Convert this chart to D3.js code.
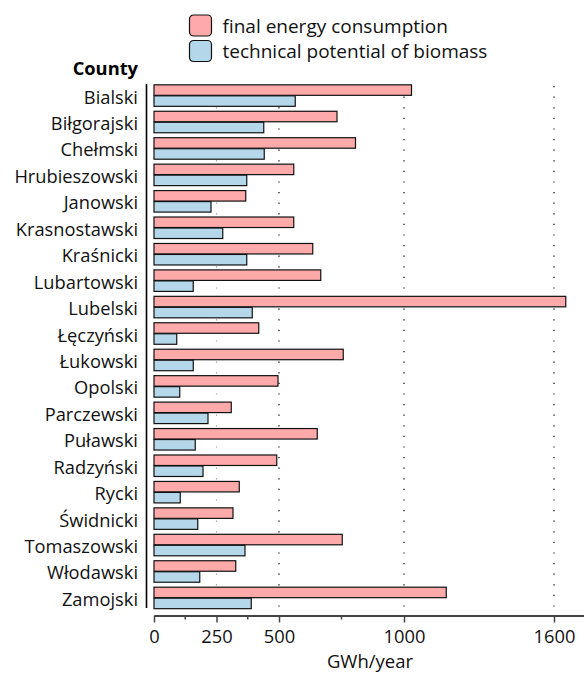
<!DOCTYPE html>
<html>
<head>
<meta charset="utf-8">
<script src="https://cdn.jsdelivr.net/npm/d3@7"></script>
<style>
  body { margin: 0; background: #fff; }
  svg { display: block; font-family: "Open Sans", "Noto Sans", sans-serif; }
</style>
</head>
<body>
<svg id="chart" width="584" height="673"></svg>
<script>
const counties = ["Bialski","Biłgorajski","Chełmski","Hrubieszowski","Janowski","Krasnostawski","Kraśnicki","Lubartowski","Lubelski","Łęczyński","Łukowski","Opolski","Parczewski","Puławski","Radzyński","Rycki","Świdnicki","Tomaszowski","Włodawski","Zamojski"];
const finalEnergy = [1030, 732, 806, 559, 367, 559, 635, 667, 1647, 419, 757, 496, 309, 653, 491, 341, 316, 753, 327, 1169];
const biomass = [565, 439, 441, 371, 228, 275, 371, 157, 393, 91, 157, 103, 216, 165, 196, 105, 175, 364, 183, 389];
const seriesNames = ["final energy consumption", "technical potential of biomass"];
const seriesColors = ["#ffaaaa", "#b4d8ea"];
const tickValues = [0, 250, 500, 1000, 1600];
const minorTicks = [125, 375, 750];
const gridValues = [250, 500, 1000, 1600];

const svg = d3.select("#chart");
const x = d3.scaleLinear().domain([0, 1720]).range([154, 584]);
const y = d3.scaleBand().domain(counties).range([82.1, 610.9]).paddingInner(0.168).paddingOuter(0.084);
const ySub = d3.scaleBand().domain([0, 1]).range([0, y.bandwidth()]);

// gridlines
svg.append("g").selectAll("line").data(gridValues).join("line")
  .attr("x1", d => x(d)).attr("x2", d => x(d))
  .attr("y1", 86).attr("y2", 612)
  .attr("stroke", d => d === 250 ? "#999" : "#000")
  .attr("stroke-width", 1.2)
  .attr("stroke-dasharray", "1.2,9.4");

const data = counties.map((c, i) => ({ county: c, vals: [finalEnergy[i], biomass[i]] }));

const groups = svg.append("g").selectAll("g").data(data).join("g")
  .attr("transform", d => `translate(0,${y(d.county)})`);
groups.selectAll("rect").data(d => d.vals.map((v, k) => ({ v, k }))).join("rect")
  .attr("x", x(0))
  .attr("y", d => ySub(d.k) + 0.5)
  .attr("width", d => x(d.v) - x(0))
  .attr("height", ySub.bandwidth() - 0.5)
  .attr("fill", d => seriesColors[d.k])
  .attr("stroke", "#111")
  .attr("stroke-width", 1.2);

// left axis line
svg.append("line").attr("x1", 146.5).attr("x2", 146.5).attr("y1", 84).attr("y2", 608)
  .attr("stroke", "#000").attr("stroke-width", 1.6);

// county labels
svg.append("g").selectAll("text").data(counties).join("text")
  .attr("x", 138).attr("y", d => y(d) + y.bandwidth() / 2)
  .attr("dy", "0.45em").attr("text-anchor", "end")
  .attr("font-size", 18.3).attr("fill", "#111")
  .text(d => d);
svg.append("text").attr("x", 138).attr("y", 75).attr("text-anchor", "end")
  .attr("font-size", 18.3).attr("font-weight", "bold").attr("fill", "#000").text("County");

// x axis
const xAxis = svg.append("g").attr("transform", "translate(0,615.5)")
  .call(d3.axisBottom(x).tickValues(tickValues).tickFormat(d3.format("d"))
    .tickSize(7).tickPadding(8).tickSizeOuter(0));
xAxis.select(".domain").attr("stroke", "#444").attr("stroke-width", 2);
xAxis.selectAll(".tick line").attr("stroke", "#444").attr("stroke-width", 1.5);
xAxis.selectAll(".tick text").attr("font-size", 18.3).attr("fill", "#111")
  .attr("font-family", "'Open Sans', 'Noto Sans', sans-serif");
svg.append("g").attr("transform", "translate(0,615.5)").selectAll("line").data(minorTicks).join("line")
  .attr("x1", d => x(d)).attr("x2", d => x(d)).attr("y1", 0).attr("y2", 4)
  .attr("stroke", "#444").attr("stroke-width", 1.5);
svg.append("text").attr("x", 370).attr("y", 668).attr("text-anchor", "middle")
  .attr("font-size", 18.5).attr("fill", "#111").text("GWh/year");

// legend
const legend = svg.append("g").selectAll("g").data(seriesNames).join("g")
  .attr("transform", (d, i) => `translate(189.5,${15 + i * 25.5})`);
legend.append("rect").attr("width", 22).attr("height", 21).attr("rx", 4)
  .attr("fill", (d, i) => seriesColors[i]).attr("stroke", "#111").attr("stroke-width", 1.2);
legend.append("text").attr("x", 33).attr("y", 10.5).attr("dy", "0.38em")
  .attr("font-size", 19).attr("fill", "#111").text(d => d);
</script>
</body>
</html>
